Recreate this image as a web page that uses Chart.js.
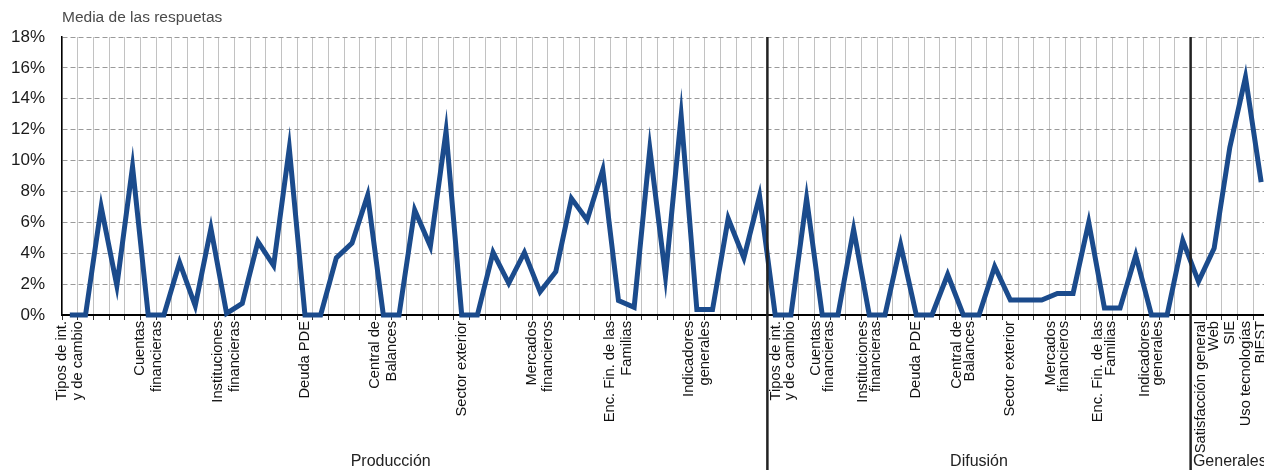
<!DOCTYPE html>
<html>
<head>
<meta charset="utf-8">
<script src="https://cdn.jsdelivr.net/npm/chart.js@4.4.1/dist/chart.umd.min.js"></script>
<style>
  html, body { margin: 0; padding: 0; background: #fff; overflow: hidden; }
  #wrap { position: relative; width: 1269px; height: 470px; }
</style>
</head>
<body>
<div id="wrap"><canvas id="chart"></canvas></div>
<script>
// section names, repeated in Producción (5 questions each) and Difusión (3 each)
const sectionNames = [
  ['Tipos de int.', 'y de cambio'],
  ['Cuentas', 'financieras'],
  ['Instituciones', 'financieras'],
  ['Deuda PDE'],
  ['Central de', 'Balances'],
  ['Sector exterior'],
  ['Mercados', 'financieros'],
  ['Enc. Fin. de las', 'Familias'],
  ['Indicadores', 'generales']
]
const generalNames = ['Satisfacción general', 'Web', 'SIE', 'Uso tecnologías', 'BIEST']
const groupNames = ['Producción', 'Difusión', 'Generales']

const produccion = [0, 0, 7.0, 1.9, 9.6, 0, 0, 3.4, 0.6, 5.6, 0.1, 0.75, 4.75, 3.2, 10.8,
  0, 0, 3.7, 4.65, 7.75, 0, 0, 6.8, 4.45, 11.9, 0, 0, 4.05, 2.05, 4.05,
  1.5, 2.8, 7.55, 6.15, 9.4, 0.93, 0.5, 10.75, 2.5, 12.9, 0.35, 0.35, 6.25, 3.7, 7.7]
const difusion = [0, 0, 7.55, 0, 0, 5.55, 0, 0, 4.55, 0, 0, 2.62, 0, 0, 3.14,
  0.97, 0.97, 0.97, 1.4, 1.4, 6.0, 0.45, 0.45, 3.87, 0, 0, 4.82]
const generales = [2.16, 4.32, 10.85, 15.4, 8.6]

const yMax = 18
const yStep = 2

// build the category list
const labels = []
const groupSizes = [produccion.length, difusion.length, generales.length]
const perSection = [produccion.length / sectionNames.length, difusion.length / sectionNames.length]
perSection.forEach(n => {
  sectionNames.forEach(s => {
    labels.push(s)
    for (let k = 1; k < n; k++) labels.push([])
  })
})
generalNames.forEach(s => labels.push([s]))
const values = [...produccion, ...difusion, ...generales]

const FONT = '"Liberation Sans", Arial, Helvetica, sans-serif'

const overlay = {
  id: 'overlay',
  beforeDatasetsDraw(chart) {
    chart.ctx.miterLimit = 30
  },
  afterDatasetsDraw(chart) {
    const ctx = chart.ctx
    const xs = chart.scales.x
    const area = chart.chartArea
    ctx.miterLimit = 10
    // group separators
    ctx.save()
    ctx.strokeStyle = '#222'
    ctx.lineWidth = 2.5
    let start = 0
    for (let g = 0; g < groupSizes.length - 1; g++) {
      start += groupSizes[g]
      const sx = (xs.getPixelForValue(start - 1) + xs.getPixelForValue(start)) / 2
      ctx.beginPath()
      ctx.moveTo(sx, area.top)
      ctx.lineTo(sx, chart.height)
      ctx.stroke()
    }
    ctx.restore()
  },
  afterDraw(chart) {
    const ctx = chart.ctx
    const xs = chart.scales.x
    const area = chart.chartArea
    const step = xs.getPixelForValue(1) - xs.getPixelForValue(0)

    // separator positions
    const seps = []
    let acc = 0
    for (let g = 0; g < groupSizes.length - 1; g++) {
      acc += groupSizes[g]
      seps.push(xs.getPixelForValue(acc) - step / 2)
    }

    ctx.save()
    ctx.fillStyle = '#111'
    ctx.font = '14.7px ' + FONT
    ctx.textAlign = 'right'
    ctx.textBaseline = 'middle'
    labels.forEach((lines, i) => {
      if (!lines.length) return
      const inDif = i >= groupSizes[0] && i < groupSizes[0] + groupSizes[1]
      const lh = inDif ? 13.5 : 16.5
      const n = lines.length
      let x = xs.getPixelForValue(i)
      seps.forEach(sx => {
        if (x > sx && x - n * lh / 2 < sx + 2) x = sx + 2 + n * lh / 2
      })
      ctx.save()
      ctx.translate(x, area.bottom + 6)
      ctx.rotate(-Math.PI / 2)
      lines.forEach((ln, k) => ctx.fillText(ln, 0, (k - (n - 1) / 2) * lh))
      ctx.restore()
    })

    // group names (the first one sits a little left of its centre, as in the source)
    const nudge = [-24, 0, 0]
    ctx.font = '16px ' + FONT
    ctx.fillStyle = '#222'
    ctx.textAlign = 'center'
    let first = 0
    groupNames.forEach((name, g) => {
      const left = xs.getPixelForValue(first) - step / 2
      const right = xs.getPixelForValue(first + groupSizes[g] - 1) + step / 2
      ctx.fillText(name, (left + right) / 2 + nudge[g], 462)
      first += groupSizes[g]
    })

    // axis title
    ctx.font = '15.5px ' + FONT
    ctx.fillStyle = '#4a4a4a'
    ctx.textAlign = 'left'
    ctx.fillText('Media de las respuetas', area.left, 18)
    ctx.restore()
  }
}

new Chart(document.getElementById('chart'), {
  type: 'line',
  data: {
    labels: labels,
    datasets: [{
      data: values,
      borderColor: '#1b4b8c',
      borderWidth: 5,
      borderJoinStyle: 'miter',
      pointRadius: 0,
      tension: 0,
      fill: false,
      clip: false
    }]
  },
  options: {
    responsive: true,
    maintainAspectRatio: false,
    animation: false,
    layout: {
      padding: { top: 37, right: 0, bottom: 0, left: 0 }
    },
    plugins: {
      legend: { display: false },
      tooltip: { enabled: false }
    },
    scales: {
      x: {
        type: 'category',
        offset: true,
        grid: {
          display: true,
          offset: true,
          color: '#c2c2c2',
          lineWidth: 1,
          drawTicks: true,
          tickLength: 5,
          tickColor: '#333'
        },
        border: { display: true, color: '#000', width: 2 },
        ticks: { display: false, autoSkip: false },
        afterFit: scale => { scale.height = 155 }
      },
      y: {
        min: 0,
        max: yMax,
        grid: {
          color: '#9a9a9a',
          lineWidth: 1,
          drawTicks: false
        },
        border: { display: true, color: '#000', width: 1.5, dash: [5, 3] },
        ticks: {
          stepSize: yStep,
          padding: 17,
          color: '#1a1a1a',
          font: { size: 17, family: FONT },
          callback: v => v + '%'
        },
        afterFit: scale => { scale.width = 62 }
      }
    }
  },
  plugins: [overlay]
})
</script>
</body>
</html>
